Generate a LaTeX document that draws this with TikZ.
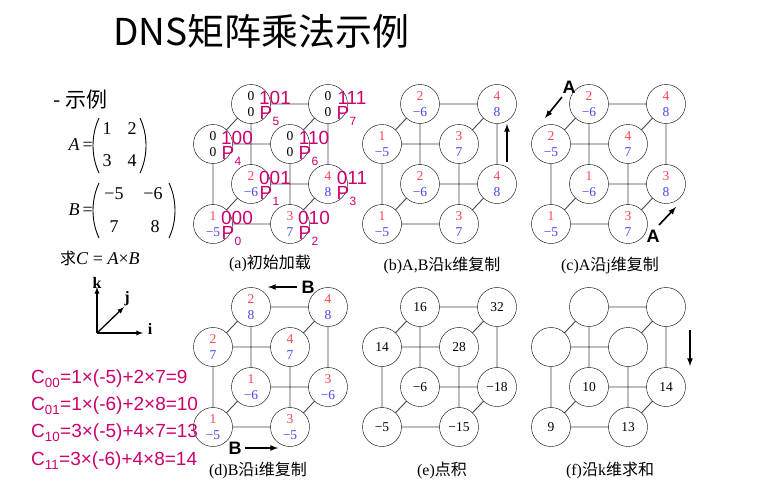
\documentclass[tikz,border=0pt]{standalone}
\usepackage{fontspec}
\setmainfont{Liberation Serif}
\setsansfont{Liberation Sans}
\newfontfamily\cjk{Noto Sans CJK SC}
\usetikzlibrary{calc,backgrounds}
\definecolor{nr}{RGB}{250,70,80}
\definecolor{nb}{RGB}{70,70,240}
\definecolor{mg}{RGB}{205,0,110}
\definecolor{edge}{RGB}{70,70,70}
\newcommand\ab[2]{\textcolor{nr}{#1}\\\textcolor{nb}{#2}}
\newcommand\cubeP[9]{%
\node[cn] (#1fbl) at (#1o) {#2};
\node[cn] (#1fbr) at ([shift={(77,0)}]#1o) {#3};
\node[cn] (#1bbl) at ([shift={(38,-40)}]#1o) {#4};
\node[cn] (#1bbr) at ([shift={(115,-40)}]#1o) {#5};
\node[cn] (#1ftl) at ([shift={(0,-80)}]#1o) {#6};
\node[cn] (#1ftr) at ([shift={(77,-80)}]#1o) {#7};
\node[cn] (#1btl) at ([shift={(38,-120)}]#1o) {#8};
\node[cn] (#1btr) at ([shift={(115,-120)}]#1o) {#9};
\begin{pgfonlayer}{background}
\draw[ed] (#1fbl.center)--(#1fbr.center) (#1bbl.center)--(#1bbr.center) (#1fbl.center)--(#1bbl.center) (#1fbr.center)--(#1bbr.center)
 (#1ftl.center)--(#1ftr.center) (#1btl.center)--(#1btr.center) (#1ftl.center)--(#1btl.center) (#1ftr.center)--(#1btr.center)
 (#1fbl.center)--(#1ftl.center) (#1fbr.center)--(#1ftr.center) (#1bbl.center)--(#1btl.center) (#1bbr.center)--(#1btr.center);
\end{pgfonlayer}}
\begin{document}
\begin{tikzpicture}[x=1pt,y=-1pt,
 cn/.style={circle,draw,fill=white,minimum size=39pt,inner sep=0pt,align=center,font=\fontsize{13.5}{16}\selectfont},
 ed/.style={draw=edge,line width=0.9pt},
 mgl/.style={text=mg,font=\sffamily\fontsize{19}{19}\selectfont,inner sep=0pt},
 mgs/.style={text=mg,font=\sffamily\fontsize{12}{12}\selectfont,inner sep=0pt},
 captxt/.style={font=\fontsize{16}{16}\selectfont,inner sep=0pt},
 arr/.style={-latex,line width=1.6pt},
 bl/.style={font=\sffamily\bfseries\fontsize{18}{18}\selectfont,inner sep=0pt},
 fm/.style={text=mg,font=\sffamily\fontsize{19}{19}\selectfont,anchor=west,inner sep=0pt},
 mt/.style={font=\fontsize{18}{18}\selectfont,inner sep=0pt},
 par/.style={line width=0.9pt}]
\begin{pgfonlayer}{background}
\fill[white] (0,0) rectangle (767,488);
\end{pgfonlayer}
\useasboundingbox (0,0) rectangle (767,488);
\node[font=\cjk\fontsize{37}{37}\selectfont,anchor=west,inner sep=0pt] (title) at (113,31) {DNS矩阵乘法示例};
% left column
\node[font=\cjk\fontsize{21}{21}\selectfont,anchor=west,inner sep=0pt] (ex) at (53,100) {- 示例};
\node[mt,anchor=east] (aeq) at (93,145) {\textit{A}\,=};
\node[mt] (a11) at (107,129) {1}; \node[mt] (a12) at (132,129) {2};
\node[mt] (a21) at (107,161) {3}; \node[mt] (a22) at (132,161) {4};
\coordinate (pa1) at (99,118); \coordinate (pa2) at (99,173);
\coordinate (pa3) at (140,118); \coordinate (pa4) at (140,173);
\draw[par] (pa1) .. controls (91,135) and (91,156) .. (pa2);
\draw[par] (pa3) .. controls (148,135) and (148,156) .. (pa4);
\node[mt,anchor=east] (beq) at (93,210) {\textit{B}\,=};
\node[mt] (b11) at (114,194) {−5}; \node[mt] (b12) at (153,194) {−6};
\node[mt] (b21) at (114,227) {7}; \node[mt] (b22) at (155,227) {8};
\coordinate (pb1) at (99,183); \coordinate (pb2) at (99,238);
\coordinate (pb3) at (169,183); \coordinate (pb4) at (169,238);
\draw[par] (pb1) .. controls (91,200) and (91,221) .. (pb2);
\draw[par] (pb3) .. controls (177,200) and (177,221) .. (pb4);
\node[mt,anchor=west] (mc) at (60,258) {{\cjk\fontsize{16}{16}\selectfont 求}\textit{C} = \textit{A}×\textit{B}};
\coordinate (ax0) at (97,333);
\coordinate (axk) at (97,287);
\coordinate (axj) at (124,307);
\coordinate (axi) at (143,333);
\draw[arr,line width=1.3pt] (ax0)--(axk);
\draw[arr,line width=1.3pt] (ax0)--(axj);
\draw[arr,line width=1.3pt] (ax0)--(axi);
\node[font=\bfseries\fontsize{16}{16}\selectfont,inner sep=0pt] (lk) at (97,283) {k};
\node[font=\bfseries\fontsize{16}{16}\selectfont,inner sep=0pt] (lj) at (127,299) {j};
\node[font=\bfseries\fontsize{16}{16}\selectfont,inner sep=0pt] (li) at (150,329) {i};
% panels
\coordinate (ao) at (213,224);
\cubeP{a}{\ab{1}{−5}}{\ab{3}{7}}{\ab{2}{−6}}{\ab{4}{8}}{0\\0}{0\\0}{0\\0}{0\\0}
\foreach \n/\b/\p in {fbl/000/0,bbl/001/1,fbr/010/2,bbr/011/3,ftl/100/4,btl/101/5,ftr/110/6,btr/111/7}{
 \node[mgl] (a\n b) at ([shift={(24,-6)}]a\n) {\b};
 \node[mgl] (a\n p) at ([shift={(15,9)}]a\n) {P};
 \node[mgs] (a\n s) at ([shift={(25,17)}]a\n) {\p};
}
\node[captxt] (capa) at (270,263) {(a){\cjk 初始加载}};
\coordinate (bo) at (382,224);
\cubeP{b}{\ab{1}{−5}}{\ab{3}{7}}{\ab{2}{−6}}{\ab{4}{8}}{\ab{1}{−5}}{\ab{3}{7}}{\ab{2}{−6}}{\ab{4}{8}}
\coordinate (bu1) at (507,162); \coordinate (bu2) at (507,124);
\draw[arr] (bu1)--(bu2);
\node[captxt] (capb) at (442,265) {(b)A,B{\cjk 沿}k{\cjk 维复制}};
\coordinate (co) at (551,224);
\cubeP{c}{\ab{1}{−5}}{\ab{3}{7}}{\ab{1}{−6}}{\ab{3}{8}}{\ab{2}{−5}}{\ab{4}{7}}{\ab{2}{−6}}{\ab{4}{8}}
\coordinate (ca1) at (562,97); \coordinate (ca2) at (545,118);
\draw[arr] (ca1)--(ca2);
\node[bl] (cal1) at (569,87) {A};
\coordinate (cb1) at (659,225); \coordinate (cb2) at (676,207);
\draw[arr] (cb1)--(cb2);
\node[bl] (cal2) at (653,236) {A};
\node[captxt] (capc) at (610,265) {(c)A{\cjk 沿}j{\cjk 维复制}};
\coordinate (do) at (213,427);
\cubeP{d}{\ab{1}{−5}}{\ab{3}{−5}}{\ab{1}{−6}}{\ab{3}{−6}}{\ab{2}{7}}{\ab{4}{7}}{\ab{2}{8}}{\ab{4}{8}}
\coordinate (da1) at (297,287); \coordinate (da2) at (268,287);
\draw[arr] (da1)--(da2);
\node[bl] (dal1) at (308,287) {B};
\coordinate (db1) at (245,448); \coordinate (db2) at (278,448);
\draw[arr] (db1)--(db2);
\node[bl] (dal2) at (235,448) {B};
\node[captxt] (capd) at (258,470) {(d)B{\cjk 沿}i{\cjk 维复制}};
\coordinate (eo) at (382,427);
\cubeP{e}{−5}{−15}{−6}{−18}{14}{28}{16}{32}
\node[captxt] (cape) at (442,470) {(e){\cjk 点积}};
\coordinate (fo) at (551,427);
\cubeP{f}{9}{13}{10}{14}{}{}{}{}
\coordinate (fa1) at (690,330); \coordinate (fa2) at (690,366);
\draw[arr] (fa1)--(fa2);
\node[captxt] (capf) at (610,470) {(f){\cjk 沿}k{\cjk 维求和}};
% formulas
\node[fm] (f1) at (31,379) {C\textsubscript{00}=1×(-5)+2×7=9};
\node[fm] (f2) at (31,406) {C\textsubscript{01}=1×(-6)+2×8=10};
\node[fm] (f3) at (31,433) {C\textsubscript{10}=3×(-5)+4×7=13};
\node[fm] (f4) at (31,461) {C\textsubscript{11}=3×(-6)+4×8=14};
\end{tikzpicture}
\end{document}
